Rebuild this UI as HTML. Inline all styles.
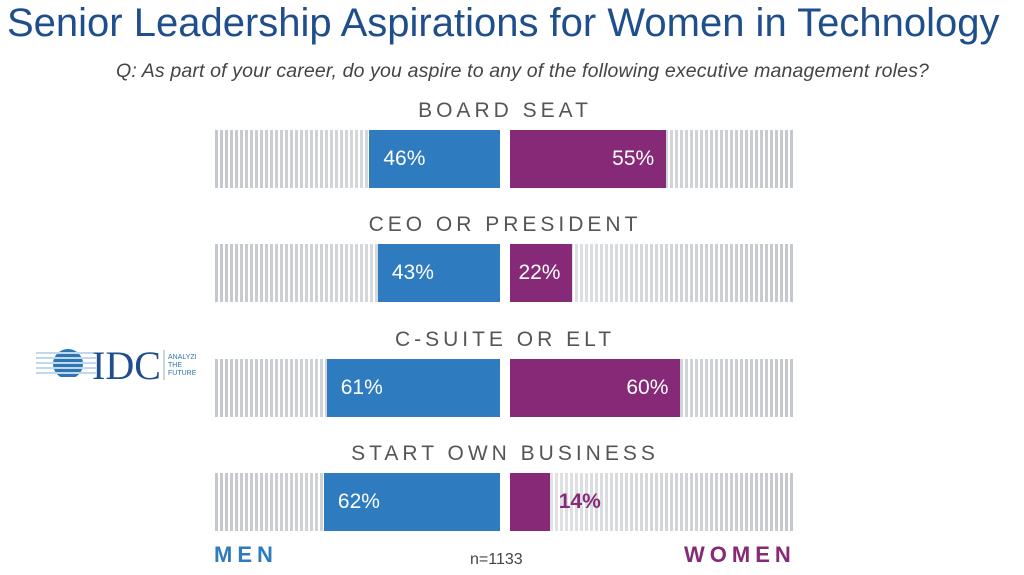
<!DOCTYPE html>
<html><head><meta charset="utf-8"><style>
body{margin:0;width:1024px;height:575px;background:#fff;font-family:"Liberation Sans",sans-serif;position:relative;overflow:hidden}
.t{position:absolute;white-space:nowrap}
.stripe{position:absolute;background:repeating-linear-gradient(90deg,#c4c8cc 0 3px,#fff 3px 5px)}
.fadeL{position:absolute;background:linear-gradient(90deg,rgba(255,255,255,0),rgba(255,255,255,0.55))}
.fadeR{position:absolute;background:linear-gradient(90deg,rgba(255,255,255,0.55),rgba(255,255,255,0))}
.bar{position:absolute;color:#fff;font-size:21px;display:flex;align-items:center}
.lab{position:absolute;left:0;width:1010px;text-align:center;font-size:21px;letter-spacing:4px;color:#555}
</style></head><body>
<div class="t" style="left:7px;top:1px;font-size:40px;color:#1f4e8c">Senior Leadership Aspirations for Women in Technology</div>
<div class="t" style="left:116px;top:60px;font-size:19.5px;letter-spacing:0.15px;font-style:italic;color:#444">Q: As part of your career, do you aspire to any of the following executive management roles?</div>
<div style="position:absolute;left:36px;top:346px;width:160px;height:40px">
<svg width="160" height="40"><defs><clipPath id="c"><circle cx="32" cy="18" r="15"/></clipPath></defs>
<g clip-path="url(#c)" fill="#2e75b6"><rect x="0" y="3" width="60" height="3"/><rect x="0" y="8" width="60" height="3"/><rect x="0" y="13" width="60" height="3"/><rect x="0" y="18" width="60" height="3"/><rect x="0" y="23" width="60" height="3"/><rect x="0" y="28" width="60" height="3"/></g>
<g stroke="#7fb2dc" stroke-width="1"><line x1="0" y1="7" x2="60" y2="7"/><line x1="0" y1="12" x2="60" y2="12"/><line x1="0" y1="17" x2="60" y2="17"/><line x1="0" y1="22" x2="60" y2="22"/><line x1="0" y1="27" x2="60" y2="27"/></g>
<text x="56" y="33" font-family="Liberation Serif" font-size="40" fill="#1f4e8c">IDC</text>
<line x1="128" y1="4" x2="128" y2="34" stroke="#9ab" stroke-width="1"/>
<text x="132" y="13" font-size="7" fill="#2e75b6">ANALYZE</text><text x="132" y="21" font-size="7" fill="#2e75b6">THE</text><text x="132" y="29" font-size="7" fill="#2e75b6">FUTURE</text></svg></div>
<div id="chart"></div>
<div class="t" style="left:214px;top:542px;font-size:22px;font-weight:bold;color:#2e7bc0;letter-spacing:5px">MEN</div>
<div class="t" style="left:470px;top:551px;font-size:16px;color:#444">n=1133</div>
<div class="t" style="left:684px;top:542px;font-size:22px;font-weight:bold;color:#862a78;letter-spacing:5px">WOMEN</div>
<script>
const categories=["BOARD SEAT","CEO OR PRESIDENT","C-SUITE OR ELT","START OWN BUSINESS"];
const menValues=[46,43,61,62];
const womenValues=[55,22,60,14];
const ch=document.getElementById('chart');
const left=215,right=795,menEnd=500,womenStart=510,scale=2.84;
const xm=v=>menEnd-v*scale, xw=v=>womenStart+v*scale;
categories.forEach((c,i)=>{
  const top=130+i*114.3,h=58;
  const lab=document.createElement('div');lab.className='lab';lab.textContent=c;lab.style.top=(top-31)+'px';
  
  
  ch.appendChild(lab);
  const s1=document.createElement('div');s1.className='stripe';s1.style.cssText+=`left:${left}px;top:${top}px;width:${menEnd-left}px;height:${h}px`;
  
  
  ch.appendChild(s1);
  const f1=document.createElement('div');f1.className='fadeL';f1.style.cssText+=`left:${left}px;top:${top}px;width:${menEnd-left}px;height:${h}px`;ch.appendChild(f1);
  const s2=document.createElement('div');s2.className='stripe';s2.style.cssText+=`left:${womenStart}px;top:${top}px;width:${right-womenStart}px;height:${h}px`;
  
  
  ch.appendChild(s2);
  const f2=document.createElement('div');f2.className='fadeR';f2.style.cssText+=`left:${womenStart}px;top:${top}px;width:${right-womenStart}px;height:${h}px`;ch.appendChild(f2);
  const b1=document.createElement('div');b1.className='bar';
  b1.style.cssText+=`left:${xm(menValues[i])}px;top:${top}px;width:${menValues[i]*scale}px;height:${h}px;background:#2e7bc0;padding-left:14px;box-sizing:border-box`;
  b1.textContent=menValues[i]+'%';
  
  
  ch.appendChild(b1);
  const b2=document.createElement('div');b2.className='bar';
  const w=womenValues[i]*scale;
  b2.style.cssText+=`left:${womenStart}px;top:${top}px;width:${w}px;height:${h}px;background:#862a78;justify-content:flex-end;padding-right:12px;box-sizing:border-box`;
  
  
  ch.appendChild(b2);
  if(w<50){
    const t=document.createElement('div');t.className='bar';t.textContent=womenValues[i]+'%';
    t.style.cssText+=`left:${xw(womenValues[i])+9}px;top:${top}px;height:${h}px;color:#862a78;font-weight:bold`;
    
    
    ch.appendChild(t);
  } else b2.textContent=womenValues[i]+'%';
});
</script>
</body></html>
